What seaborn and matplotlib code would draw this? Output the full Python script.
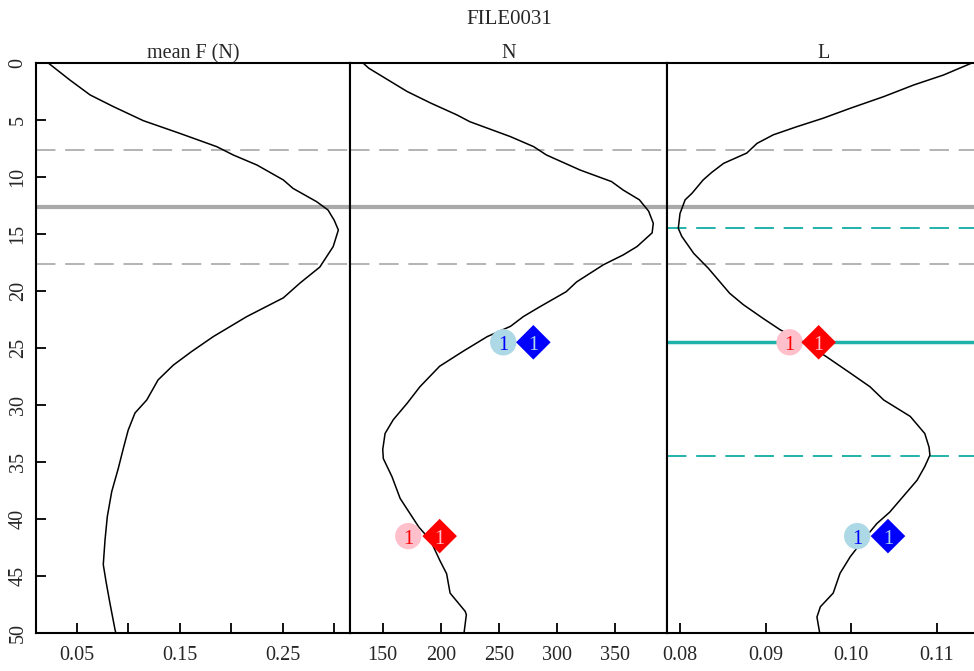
import matplotlib
matplotlib.use('Agg')
import matplotlib.pyplot as plt
import seaborn as sns

# 深度剖面数据
depth_f = [0, 1.5, 2.8, 3.8, 5.06, 6.17, 7.34, 8.07, 8.95, 10.26, 11.0, 12.17, 12.9, 13.8, 14.65,
           16.1, 17.9, 19.3, 20.6, 22.25, 24.0, 25.3, 26.5, 27.8, 29.56, 30.7, 32.2, 33.8, 35.55,
           37.6, 39.8, 41.84, 44.0, 45.5, 47.4, 49.7, 50]
mean_f = [0.0224, 0.0435, 0.063, 0.085, 0.1147, 0.150, 0.186, 0.202, 0.225, 0.2506, 0.260, 0.283,
          0.294, 0.300, 0.304, 0.299, 0.286, 0.2668, 0.2506, 0.215, 0.1826, 0.1617, 0.1438, 0.129,
          0.118, 0.1066, 0.100, 0.0953, 0.0904, 0.084, 0.0797, 0.0775, 0.0758, 0.0785, 0.0823,
          0.0872, 0.088]

depth_n = [0, 0.46, 2.5, 3.5, 4.56, 5.15, 6.46, 7.34, 8.07, 9.39, 10.4, 11.14, 12.0, 13.0, 14.06,
           14.9, 16.1, 16.84, 17.7, 19.2, 20.06, 21.4, 22.25, 23.1, 24.0, 25.3, 26.6, 28.4, 29.85,
           31.3, 32.5, 33.9, 34.7, 36.3, 38.2, 40.7, 41.85, 43.6, 44.8, 46.5, 48.1, 48.4, 50]
n_vals = [133, 138, 171, 191, 214, 225, 260, 280, 291, 320, 347, 357, 371, 379, 383, 382, 369, 357,
          340, 317, 308, 285, 271, 260, 240, 219, 199, 182, 171, 159, 152, 150, 150.5, 158, 165,
          181, 191, 199, 205, 208, 221, 222, 220]

depth_l = [0, 1.05, 1.93, 2.95, 3.97, 4.85, 5.6, 6.3, 7.05, 7.9, 8.8, 9.6, 10.26, 11.43, 12.0, 13.2,
           14.5, 15.2, 16.7, 18.0, 20.2, 21.2, 22.4, 23.4, 24.5, 25.76, 27.2, 28.4, 29.56, 31.0,
           32.5, 33.7, 34.4, 35.4, 36.6, 38.0, 39.4, 40.4, 41.85, 43.3, 44.76, 46.5, 47.7, 48.6,
           49.9, 50]
l_vals = [0.1141, 0.1108, 0.1073, 0.1038, 0.0999, 0.0967, 0.0936, 0.0909, 0.0890, 0.0878, 0.0851,
          0.0837, 0.0827, 0.0814, 0.0806, 0.0800, 0.0798, 0.0802, 0.0816, 0.0833, 0.0858, 0.0874,
          0.0897, 0.0917, 0.0945, 0.0971, 0.0999, 0.1022, 0.1038, 0.1069, 0.1086, 0.1091, 0.1092,
          0.1086, 0.1077, 0.1061, 0.1045, 0.1030, 0.1014, 0.0999, 0.0987, 0.0979, 0.0964, 0.0960,
          0.0963, 0.0963]

# 参考线
gray_dashed = [7.65, 17.65]
gray_solid = 12.65
teal_dashed = [14.5, 34.5]
teal_solid = 24.5

# 标记点 (x, 深度)
n_marks_x = [253.8, 279.7, 172, 199]
l_marks_x = [0.0928, 0.0962, 0.1007, 0.1043]
marks_depth = [24.5, 24.5, 41.5, 41.5]
n_marks_style = [('o', 'lightblue', 'blue'), ('D', 'blue', 'lightblue'),
                 ('o', 'pink', 'red'), ('D', 'red', 'pink')]
l_marks_style = [('o', 'pink', 'red'), ('D', 'red', 'pink'),
                 ('o', 'lightblue', 'blue'), ('D', 'blue', 'lightblue')]

sns.set_style("ticks")
plt.rcParams['font.family'] = ['Liberation Serif', 'DejaVu Serif']
plt.rcParams['font.size'] = 14.5

fig = plt.figure(figsize=(9.74, 6.71), dpi=100)
W, H = 974, 671
bottom, top = 633, 63
edges = [36, 350, 667, 981]
ax_list = []
for i in range(3):
    ax = fig.add_axes([edges[i] / W, 1 - bottom / H, (edges[i + 1] - edges[i]) / W, (bottom - top) / H])
    ax_list.append(ax)
ax1, ax2, ax3 = ax_list

panels = [(ax1, mean_f, depth_f, 'mean F (N)'), (ax2, n_vals, depth_n, 'N'), (ax3, l_vals, depth_l, 'L')]
for ax, xv, yv, title in panels:
    for d in gray_dashed:
        ax.axhline(d, color='#b3b3b3', lw=1.4, dashes=(10, 5), zorder=1)
    ax.axhline(gray_solid, color='#a9a9a9', lw=3, zorder=1)
    sns.lineplot(x=xv, y=yv, ax=ax, orient='y', sort=False, estimator=None, color='black', lw=1.1, zorder=3)
    ax.set_ylim(50, 0)
    ax.set_title(title, fontsize=14.5, pad=3)
    ax.set_xlabel('')
    ax.set_ylabel('')
    for s in ax.spines.values():
        s.set_linewidth(1.5)
        s.set_color('black')
    ax.tick_params(direction='in', length=7, width=1.3, color='black', labelsize=14.5, pad=9)

for d in teal_dashed:
    ax3.axhline(d, color='lightseagreen', lw=1.4, dashes=(10, 5), zorder=1)
ax3.axhline(teal_solid, color='lightseagreen', lw=2.5, zorder=1)

def draw_marks(ax, xs, styles):
    for x, d, (m, fc, tc) in zip(xs, marks_depth, styles):
        size = 360 if m == 'o' else 310
        sns.scatterplot(x=[x], y=[d], ax=ax, marker=m, s=size, color=fc, edgecolor='none', zorder=5)
        ax.text(x, d + 0.3, '1', color=tc, ha='center', va='center', fontsize=14.5, zorder=6)

draw_marks(ax2, n_marks_x, n_marks_style)
draw_marks(ax3, l_marks_x, l_marks_style)

# 坐标轴
ax1.set_xlim(0.0105, 0.3153)
ax1.set_xticks([0.05, 0.10, 0.15, 0.20, 0.25, 0.30])
ax1.set_xticklabels(['0.05', '', '0.15', '', '0.25', ''])
ax1.set_yticks(range(0, 51, 5))
ax1.tick_params(axis='y', labelrotation=90, pad=6)
for lab in ax1.get_yticklabels():
    lab.set_va('center')

ax2.set_xlim(121.8, 394.8)
ax2.set_xticks([150, 200, 250, 300, 350])
ax2.set_yticks([])

ax3.set_xlim(0.07848, 0.11517)
ax3.set_xticks([0.08, 0.09, 0.10, 0.11])
ax3.set_xticklabels(['0.08', '0.09', '0.10', '0.11'])
ax3.set_yticks([])
ax3.spines['right'].set_visible(False)

fig.text(509 / W, 1 - 19 / H, 'FILE0031', ha='center', va='center', fontsize=15)

plt.savefig('out.png', dpi=100)
plt.close()
